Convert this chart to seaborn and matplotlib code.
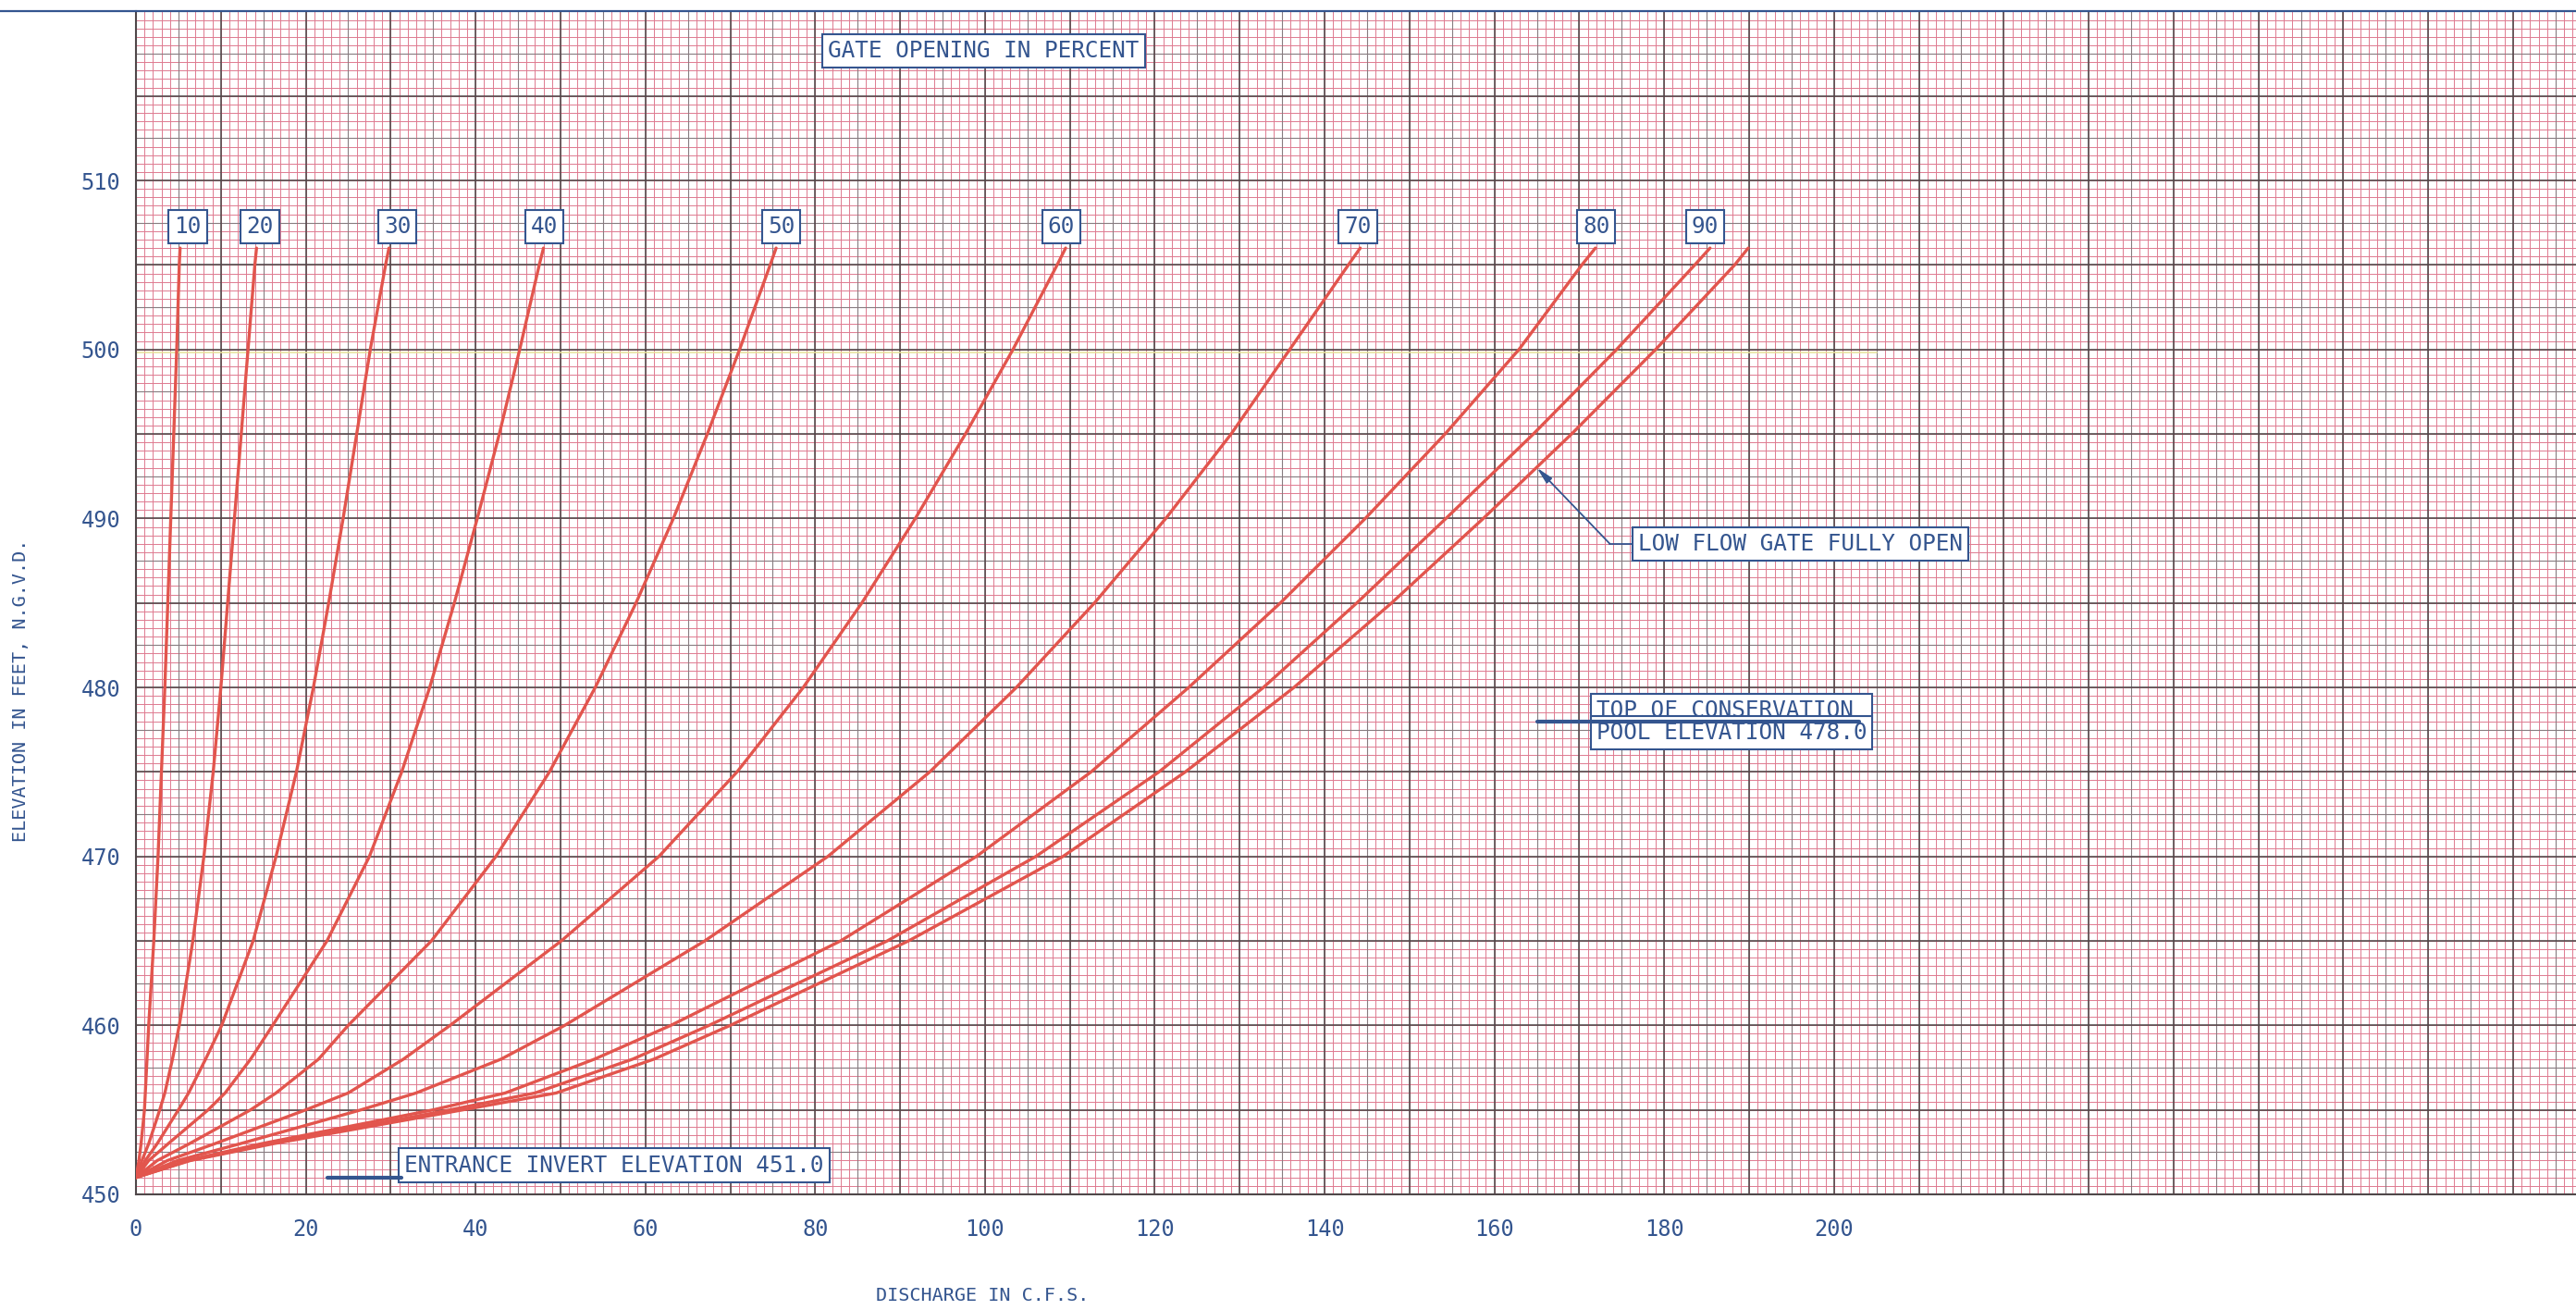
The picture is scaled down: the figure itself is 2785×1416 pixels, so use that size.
import numpy as np
import pandas as pd
import matplotlib
matplotlib.use("Agg")
import matplotlib.pyplot as plt
from matplotlib.lines import Line2D
import seaborn as sns

# ---- data: reservoir elevation (ft) vs discharge (cfs) per gate opening ----
elevation = [451, 452, 453, 455, 456, 458, 460, 465, 470, 475, 480, 485, 490, 495, 500, 505, 506]

q_gate_10 = [0, 0.35, 0.6, 1.0, 1.1, 1.3, 1.5, 2.1, 2.6, 3.0, 3.4, 3.75, 4.1, 4.45, 4.8, 5.1, 5.2]
q_gate_20 = [0, 0.7, 1.5, 2.8, 3.4, 4.3, 5.1, 6.7, 8.0, 9.1, 10.0, 10.8, 11.6, 12.4, 13.2, 14.0, 14.2]
q_gate_30 = [0, 1.1, 2.5, 5.0, 6.2, 8.2, 10.1, 13.8, 16.5, 18.9, 20.9, 22.7, 24.4, 26.0, 27.6, 29.4, 29.8]
q_gate_40 = [0, 1.5, 3.8, 8.5, 10.5, 13.5, 16.1, 22.5, 27.5, 31.3, 34.6, 37.5, 40.2, 42.8, 45.2, 47.5, 48.0]
q_gate_50 = [0, 2.5, 6.3, 13.5, 16.5, 21.5, 25.0, 34.8, 42.4, 48.7, 54.1, 58.9, 63.3, 67.3, 71.1, 74.7, 75.4]
q_gate_60 = [0, 3.7, 9.3, 20.0, 25.0, 31.5, 37.0, 50.1, 61.6, 70.8, 78.6, 85.5, 91.8, 97.7, 103.3, 108.5, 109.5]
q_gate_70 = [0, 4.9, 12.3, 26.5, 33.0, 43.0, 50.5, 67.0, 81.5, 93.5, 103.7, 112.9, 121.3, 129.0, 135.9, 142.8, 144.2]
q_gate_80 = [0, 5.9, 14.8, 35.0, 43.5, 54.0, 63.0, 83.0, 99.0, 112.5, 124.0, 134.8, 144.8, 154.2, 162.9, 170.3, 171.9]
q_gate_90 = [0, 6.2, 15.7, 37.0, 47.0, 58.5, 67.5, 88.5, 106.0, 120.5, 132.8, 143.8, 154.3, 164.6, 174.4, 183.6, 185.4]
q_gate_100 = [0, 6.4, 16.2, 38.5, 49.5, 61.0, 70.0, 91.0, 109.2, 123.6, 136.4, 147.9, 158.7, 169.1, 179.0, 188.3, 189.9]

gate_labels = ["10", "20", "30", "40", "50", "60", "70", "80", "90"]
label_q = [6.1, 14.6, 30.8, 48.1, 76.0, 109.0, 143.9, 172.0, 184.8]
label_elev = 507.25

x_ticks = [0, 20, 40, 60, 80, 100, 120, 140, 160, 180, 200]
y_ticks = [450, 460, 470, 480, 490, 500, 510]

invert_elev = 451.0
conservation_elev = 478.0

curves = {
    10: q_gate_10, 20: q_gate_20, 30: q_gate_30, 40: q_gate_40, 50: q_gate_50,
    60: q_gate_60, 70: q_gate_70, 80: q_gate_80, 90: q_gate_90, 100: q_gate_100,
}
df = pd.concat(
    [pd.DataFrame({"discharge": q, "elevation": elevation, "gate": g}) for g, q in curves.items()],
    ignore_index=True,
)

# ---- styling ----
sns.set_theme(style="white")
plt.rcParams["font.family"] = ["DejaVu Sans Mono", "DejaVu Sans"]

BLUE = "#34558f"
CURVE = "#e2554d"
PINK = "#de7a90"
MID = "#877c80"
DARK = "#4f4749"

W, H = 2785, 1416
fig = plt.figure(figsize=(W / 100, H / 100), dpi=100)
fig.patch.set_facecolor("white")
ax = fig.add_axes([147 / W, 1 - 1291 / H, (W - 147) / W, (1291 - 12.4) / H])

XMAX, YMIN, YMAX = 287.4, 450, 520
ax.set_xlim(0, XMAX)
ax.set_ylim(YMIN, YMAX)

# graph-paper grid: fine, medium and heavy rulings
ax.vlines(np.arange(0, XMAX, 1), YMIN, YMAX, color=PINK, lw=0.7, zorder=0)
ax.hlines(np.arange(YMIN, YMAX, 0.5), 0, XMAX, color=PINK, lw=0.7, zorder=0)
ax.vlines(np.arange(5, XMAX, 10), YMIN, YMAX, color=MID, lw=0.8, zorder=0.5)
ax.hlines(np.arange(YMIN + 2.5, YMAX, 5), 0, XMAX, color=MID, lw=0.8, zorder=0.5)
ax.vlines(np.arange(10, XMAX, 10), YMIN, YMAX, color=DARK, lw=1.15, zorder=0.6)
ax.hlines(np.arange(YMIN + 5, YMAX, 5), 0, XMAX, color=DARK, lw=1.15, zorder=0.6)
ax.axhline(499.8, xmin=0, xmax=205 / XMAX, color="#e6e29a", lw=1.4, alpha=0.8, zorder=0.7)

sns.lineplot(
    data=df, x="discharge", y="elevation", hue="gate",
    palette=[CURVE] * len(curves), sort=False, estimator=None,
    legend=False, lw=2.4, ax=ax, zorder=3,
)

# ---- axes, ticks ----
ax.set_xticks(x_ticks)
ax.set_yticks(y_ticks)
ax.set_xticklabels([str(v) for v in x_ticks])
ax.set_yticklabels([str(v) for v in y_ticks])
ax.tick_params(axis="x", length=0, pad=19, labelsize=17, labelcolor=BLUE)
ax.tick_params(axis="y", length=0, pad=12, labelsize=17, labelcolor=BLUE)
ax.set_xlabel("")
ax.set_ylabel("")
for side in ("left", "bottom"):
    ax.spines[side].set_color(DARK)
    ax.spines[side].set_linewidth(1.5)
ax.spines["right"].set_visible(False)
ax.spines["top"].set_visible(False)

# blue border along the top of the sheet
fig.add_artist(Line2D([0, 1], [1 - 12.4 / H] * 2, transform=fig.transFigure,
                      color=BLUE, lw=1.6))

fig.text(23 / W, 1 - 746 / H, "ELEVATION IN FEET, N.G.V.D.", rotation=90,
         ha="center", va="center", color=BLUE, fontsize=14.5)
fig.text(1062 / W, 1 - 1401 / H, "DISCHARGE IN C.F.S.", ha="center", va="center",
         color=BLUE, fontsize=14.5)

FS = 17.6
box = dict(boxstyle="square,pad=0.25", fc="white", ec=BLUE, lw=1.5)

for lab, q in zip(gate_labels, label_q):
    ax.text(q, label_elev, lab, ha="center", va="center", color=BLUE,
            fontsize=FS, bbox=box, zorder=5)

ax.text(81.5, 517.67, "GATE OPENING IN PERCENT", ha="left", va="center",
        color=BLUE, fontsize=FS, bbox=box, zorder=5)

# low-flow gate leader
ax.annotate("", xy=(165.0, 493.0), xytext=(173.6, 488.5),
            arrowprops=dict(arrowstyle="-|>,head_length=0.9,head_width=0.2", color=BLUE,
                            lw=1.3, shrinkA=0, shrinkB=0), zorder=5)
ax.plot([173.6, 176.6], [488.5, 488.5], color=BLUE, lw=1.3, zorder=5)
ax.text(176.9, 488.5, "LOW FLOW GATE FULLY OPEN", ha="left", va="center",
        color=BLUE, fontsize=FS, bbox=box, zorder=5)

# conservation pool
ax.text(172.0, conservation_elev + 0.65, "TOP OF CONSERVATION ", ha="left", va="center",
        color=BLUE, fontsize=FS, bbox=box, zorder=5)
ax.text(172.0, conservation_elev - 0.7, "POOL ELEVATION 478.0", ha="left", va="center",
        color=BLUE, fontsize=FS, bbox=box, zorder=5)
ax.plot([165.0, 203.0], [conservation_elev, conservation_elev], color=BLUE, lw=3, zorder=6)

# entrance invert
ax.text(31.6, invert_elev + 0.72, "ENTRANCE INVERT ELEVATION 451.0", ha="left", va="center",
        color=BLUE, fontsize=FS, bbox=box, zorder=5)
ax.plot([22.6, 31.3], [invert_elev, invert_elev], color=BLUE, lw=3, zorder=6)

fig.savefig("out.png", dpi=100, facecolor="white")
